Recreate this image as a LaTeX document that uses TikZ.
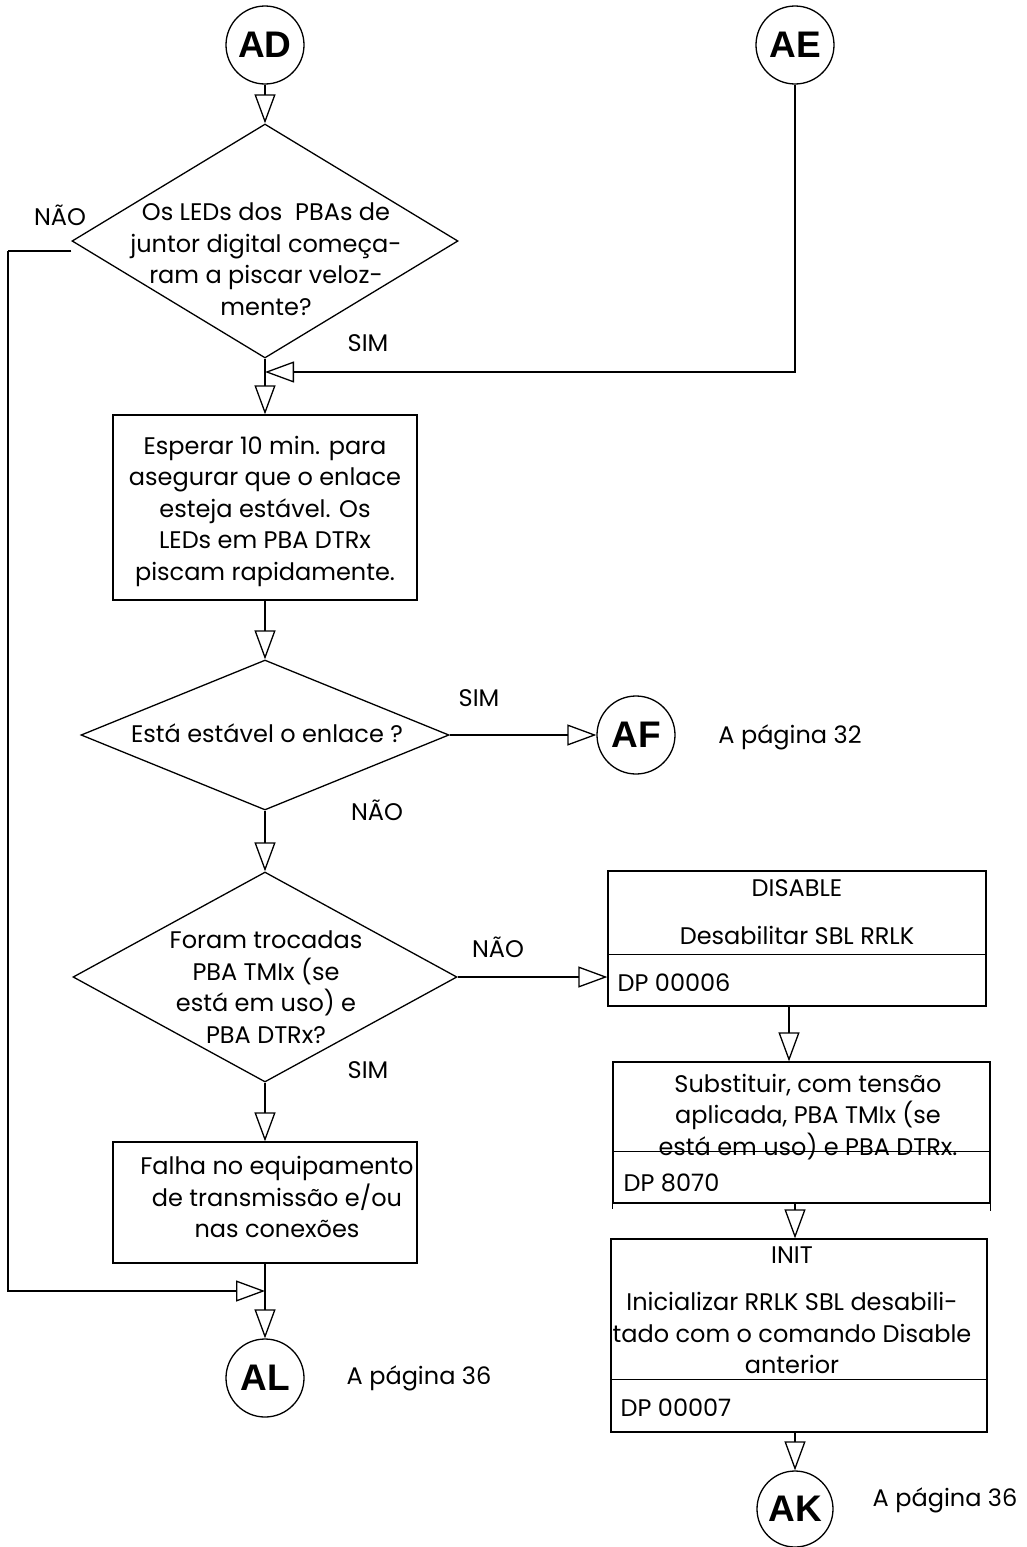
\documentclass[tikz,border=0pt]{standalone}
\usepackage{fontspec}
\setmainfont{Poppins}
\newfontfamily\circfont{Liberation Sans}
\usetikzlibrary{arrows.meta,shapes.geometric,calc}

\tikzset{
  conn/.style={circle, draw, minimum size=78pt, inner sep=0pt,
    font=\circfont\bfseries\fontsize{37}{37}\selectfont},
  dec/.style={diamond, draw, inner sep=0pt},
  box/.style={rectangle, draw, inner sep=0pt},
  txt/.style={align=center, inner sep=0pt, font=\fontsize{24}{31.5}\selectfont},
  lbl/.style={inner sep=0pt, font=\fontsize{24}{31.5}\selectfont},
  arr/.style={-{Triangle[open,length=29pt,width=21pt]}},
}

\begin{document}
\begin{tikzpicture}[x=1pt, y=-1pt, line width=1.3pt]
\useasboundingbox (0,0) rectangle (1027,1547);

% connectors at the top
\node[conn] (AD) at (265,45) {AD};
\node[conn] (AE) at (795,45) {AE};

% first decision
\node[dec, minimum width=386pt, minimum height=234pt] (d1) at (265,241) {};
\node[txt] (d1t) at (266,259) {Os LEDs dos\ \ PBAs de\\juntor digital começa-\\ram a piscar veloz-\\mente?};
\node[lbl] (n1) at (60,215) {NÃO};
\node[lbl] (s1) at (368,343) {SIM};

% waiting step
\node[box, minimum width=304pt, minimum height=185pt] (b1) at (265,507.5) {};
\node[txt] (b1t) at (265,511) {Esperar 10 min. para\\asegurar que o enlace\\esteja estável. Os\\LEDs em PBA DTRx\\piscam rapidamente.};

% second decision
\node[dec, minimum width=368pt, minimum height=150pt] (d2) at (265,735) {};
\node[txt] (d2t) at (267,733) {Está estável o enlace ?};
\node[lbl] (s2) at (479,698) {SIM};
\node[lbl] (n2) at (377,810) {NÃO};
\node[conn] (AF) at (636,735) {AF};
\node[lbl] (p32) at (790,737) {A página 32};

% third decision
\node[dec, minimum width=384pt, minimum height=210pt] (d3) at (265,977) {};
\node[txt] (d3t) at (266,987) {Foram trocadas\\PBA TMIx (se\\está em uso) e\\PBA DTRx?};
\node[lbl] (n3) at (498,947) {NÃO};
\node[lbl] (s3) at (368,1070) {SIM};

% fault box and exit
\node[box, minimum width=304pt, minimum height=121pt] (fal) at (265,1202.5) {};
\node[txt] (falt) at (277,1197) {Falha no equipamento\\de transmissão e/ou\\nas conexões};
\coordinate (merge) at (265,1291);
\coordinate (loopL) at (8,251);
\node[conn] (AL) at (265,1378) {AL};
\node[lbl] (p36a) at (419,1378) {A página 36};

% DISABLE command
\node[box, minimum width=378pt, minimum height=135pt] (dis) at (797,938.5) {};
\draw ($(dis.north west)+(0,84)$) -- ($(dis.north east)+(0,84)$);
\node[lbl] (dist1) at (797,888) {DISABLE};
\node[lbl] (dist2) at (797,935) {Desabilitar SBL RRLK};
\node[lbl, anchor=west] (dist3) at (617,983) {DP 00006};

% board replacement
\node[box, minimum width=377pt, minimum height=141pt] (b2) at (801.5,1132.5) {};
\draw ($(b2.north west)+(0,90)$) -- ($(b2.north east)+(0,90)$);
\draw (b2.south west) -- ++(0,5);
\draw (b2.south east) -- ++(0,7);
\node[txt] (b2t) at (808,1117) {Substituir, com tensão\\aplicada, PBA TMIx (se\\está em uso) e PBA DTRx.};
\node[lbl, anchor=west] (b2d) at (623,1183) {DP 8070};

% INIT command
\node[box, minimum width=376pt, minimum height=193pt] (ini) at (799,1335.5) {};
\draw ($(ini.north west)+(0,141)$) -- ($(ini.north east)+(0,141)$);
\node[lbl] (init1) at (792,1255) {INIT};
\node[txt] (init2) at (792,1333) {Inicializar RRLK SBL desabili-\\tado com o comando Disable\\anterior};
\node[lbl, anchor=west] (init3) at (620,1408) {DP 00007};

\node[conn, minimum size=76pt] (AK) at (795,1509) {AK};
\node[lbl] (p36b) at (945,1500) {A página 36};

% flow
\draw[arr] (AD.south) -- (d1.north);
\draw[arr] (AE.south) |- (d1.south |- 0,372);
\draw[arr] (d1.south) -- (b1.north);
\draw[arr] (b1.south) -- (d2.north);
\draw[arr] (d2.east) -- (AF.west);
\draw[arr] (d2.south) -- (d3.north);
\draw[arr] (d3.east) -- (d3.east -| dis.west);
\draw[arr] (d3.south) -- (fal.north);
\draw[arr] (fal.south) -- (AL.north);
\draw ([yshift=-10pt]d1.west) -- (loopL);
\draw[arr] (loopL) |- (merge);
\draw[arr] ([xshift=-8pt]dis.south) -- ([xshift=-8pt]dis.south |- b2.north);
\draw[arr] ([xshift=-6.5pt]b2.south) -- ([xshift=-6.5pt]b2.south |- ini.north);
\draw[arr] (ini.south -| AK.north) -- (AK.north);
\end{tikzpicture}
\end{document}
